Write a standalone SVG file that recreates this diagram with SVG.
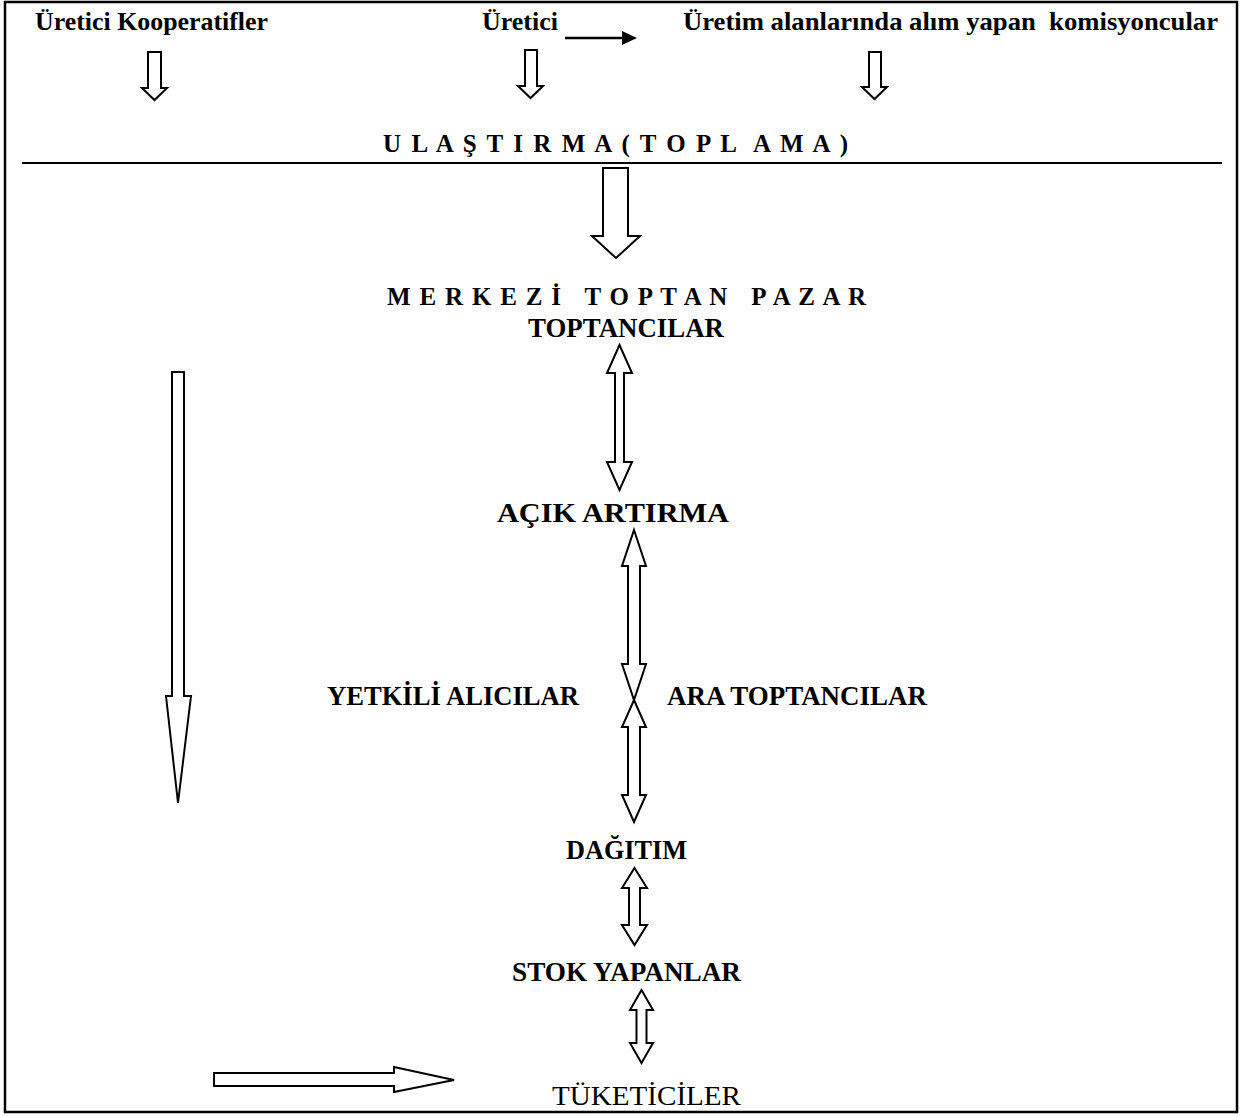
<svg xmlns="http://www.w3.org/2000/svg" width="1241" height="1117" viewBox="0 0 1241 1117">
<style>
.t{font-family:"Liberation Serif","Times New Roman",serif;font-weight:bold;font-size:28px;fill:#000}
.tt{font-family:"Liberation Serif","Times New Roman",serif;font-weight:bold;font-size:26px;fill:#000}
.r{font-family:"Liberation Serif","Times New Roman",serif;font-size:28px;fill:#000}
.sp{font-family:"Liberation Serif","Times New Roman",serif;font-weight:bold;font-size:25px;fill:#000;white-space:pre}
.ar{fill:#fff;stroke:#000;stroke-width:2;stroke-linejoin:miter}
</style>
<rect x="5" y="2" width="1232" height="1110" fill="#fff" stroke="#000" stroke-width="2.5"/>
<g id="connectors">
<path class="ar" d="M148,52 H161 V88 H167 L154.5,100 L142,88 H148 Z"/>
<path class="ar" d="M525,50 H537 V86 H543 L530.5,98 L518,86 H525 Z"/>
<path class="ar" d="M869,52 H881 V87 H887 L874.5,99 L862,87 H869 Z"/>
<line x1="565" y1="38" x2="624" y2="38" stroke="#000" stroke-width="2.5"/>
<polygon points="622,31 637,38 622,45" fill="#000"/>
<line x1="22" y1="163" x2="1222" y2="163" stroke="#000" stroke-width="2"/>
<path class="ar" d="M603,168 H628 V236 H640 L616,258 L592,236 H603 Z"/>
<path class="ar" d="M619.5,345 L632,373 H624 V462 H632 L619.5,490 L607,462 H615 V373 H607 Z"/>
<path class="ar" d="M634,530 L646,566 H640 V664 H646 L634,700 L622,664 H628 V566 H622 Z"/>
<path class="ar" d="M634,700 L646,727 H640 V795 H646 L634,822 L622,795 H628 V727 H622 Z"/>
<path class="ar" d="M634.5,868 L647,888 H640 V925 H647 L634.5,945 L622,925 H629 V888 H622 Z"/>
<path class="ar" d="M641.5,990 L653,1010 H646.5 V1043 H653 L641.5,1063 L630,1043 H636.5 V1010 H630 Z"/>
<path class="ar" d="M172,372 H184 V696 H191 L178,803 L166,696 H172 Z"/>
<path class="ar" d="M214,1073 H394 V1067 L454,1080 L394,1092 V1086 H214 Z"/>
</g>
<g id="uretici-kooperatifler"><text class="tt" x="35" y="30" textLength="233" lengthAdjust="spacingAndGlyphs">Üretici Kooperatifler</text></g>
<g id="uretici"><text class="tt" x="482" y="30" textLength="76" lengthAdjust="spacingAndGlyphs">Üretici</text></g>
<g id="komisyoncular"><text class="tt" x="683" y="30" style="white-space:pre" textLength="535" lengthAdjust="spacingAndGlyphs">Üretim alanlarında alım yapan  komisyoncular</text></g>
<g id="ulastirma"><text class="sp" x="383" y="152" textLength="465" lengthAdjust="spacing">U L A Ş T I R M A ( T O P L  A M A )</text></g>
<g id="merkezi"><text class="sp" x="387" y="305" textLength="479" lengthAdjust="spacing">M E R K E Z İ   T O P T A N   P A Z A R</text></g>
<g id="toptancilar"><text class="t" x="528" y="337" textLength="196" lengthAdjust="spacingAndGlyphs">TOPTANCILAR</text></g>
<g id="acik-artirma"><text class="t" x="497" y="522" textLength="232" lengthAdjust="spacingAndGlyphs">AÇIK ARTIRMA</text></g>
<g id="yetkili"><text class="t" x="327" y="705" textLength="252" lengthAdjust="spacingAndGlyphs">YETKİLİ ALICILAR</text></g>
<g id="ara-toptancilar"><text class="t" x="667" y="705" textLength="260" lengthAdjust="spacingAndGlyphs">ARA TOPTANCILAR</text></g>
<g id="dagitim"><text class="t" x="566" y="859" textLength="121" lengthAdjust="spacingAndGlyphs">DAĞITIM</text></g>
<g id="stok"><text class="t" x="512" y="981" textLength="229" lengthAdjust="spacingAndGlyphs">STOK YAPANLAR</text></g>
<g id="tuketiciler"><text class="r" x="552" y="1105" textLength="189" lengthAdjust="spacingAndGlyphs">TÜKETİCİLER</text></g>
</svg>
